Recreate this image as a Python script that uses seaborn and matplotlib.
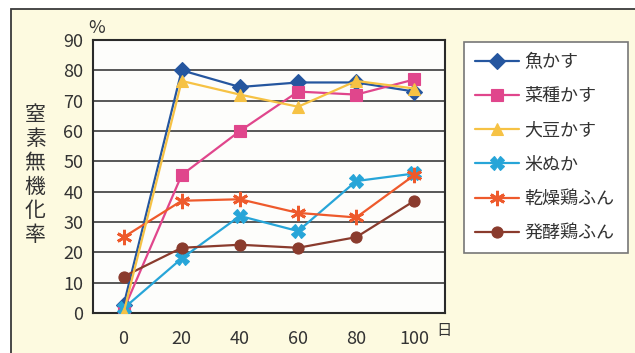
import matplotlib
matplotlib.use("Agg")
import matplotlib.pyplot as plt
import seaborn as sns
import pandas as pd
from matplotlib.patches import Rectangle

sns.set_style("white")
plt.rcParams["font.family"] = ["Noto Sans CJK JP", "DejaVu Sans"]

# Days since application
days = [0, 20, 40, 60, 80, 100]

# Nitrogen mineralization rate (%) for each organic fertilizer
fish_meal = [2.5, 80, 74.5, 76, 76, 73]
rapeseed_meal = [1, 45.5, 60, 73, 72, 77]
soybean_meal = [0, 76.5, 72, 68, 76.5, 74]
rice_bran = [1.5, 18, 32, 27, 43.5, 46]
dried_manure = [25, 37, 37.5, 33, 31.5, 45.5]
fermented_manure = [12, 21.5, 22.5, 21.5, 25, 37]

names = ["魚かす", "菜種かす", "大豆かす", "米ぬか", "乾燥鶏ふん", "発酵鶏ふん"]
series = [fish_meal, rapeseed_meal, soybean_meal, rice_bran, dried_manure, fermented_manure]

colors = ["#25569f", "#e0468c", "#f6c244", "#27a5d8", "#ee5a2c", "#8a3b2d"]
markers = ["D", "s", "^", "X", (6, 2, 0), "o"]
msizes = [8, 8, 9, 10, 11, 8]
zorders = [3, 3, 6, 4, 5, 5]

rows = []
for name, vals in zip(names, series):
    for d, v in zip(days, vals):
        rows.append({"day": d, "rate": v, "fert": name})
df = pd.DataFrame(rows)

fig = plt.figure(figsize=(6.35, 3.53), dpi=100)
fig.patch.set_facecolor("white")
fig.patches.append(Rectangle((11 / 635, -0.2), 1.2, (353 - 9) / 353 + 0.2,
                             transform=fig.transFigure, facecolor="#fdfae0",
                             edgecolor="#3a3a3a", lw=1.3, zorder=-10))

ax = fig.add_axes([93 / 635, 1 - 313 / 353, (445 - 93) / 635, (313 - 40) / 353])
ax.set_facecolor("#fdfdfb")

for name, c, m, ms, z in zip(names, colors, markers, msizes, zorders):
    sub = df[df["fert"] == name]
    filled = m not in [(6, 2, 0)]
    sns.lineplot(data=sub, x="day", y="rate", ax=ax, color=c, lw=1.6,
                 marker=m, markersize=ms, mec=c, mew=(0.8 if filled else 2.0),
                 label=name, zorder=z)

ax.set_xlim(-10.5, 110.5)
ax.set_ylim(0, 90)
ax.set_yticks(range(0, 100, 10))
ax.set_xticks(days)
ax.set_xticks([10, 30, 50, 70, 90], minor=True)
ax.tick_params(axis="x", which="major", length=0, pad=12, labelsize=13, colors="#333333")
ax.tick_params(axis="x", which="minor", direction="in", length=5, width=1.2, color="#333333")
ax.tick_params(axis="y", length=0, pad=7, labelsize=13, colors="#333333")
ax.set_xlabel("")
ax.set_ylabel("")
for y in range(10, 90, 10):
    ax.axhline(y, color="#4a4a4a", lw=1.3, zorder=1)
for s in ax.spines.values():
    s.set_color("#2a2a2a")
    s.set_linewidth(1.5)

ax.get_legend().remove()
handles, labels = ax.get_legend_handles_labels()
leg = fig.legend(handles, labels, loc="upper left",
                 bbox_to_anchor=(464 / 635, 1 - 42 / 353, (628 - 464) / 635, 0),
                 mode="expand", borderaxespad=0, fontsize=13, handlelength=2.45,
                 handletextpad=0.3, labelspacing=0.9, borderpad=0.6, frameon=True,
                 fancybox=False, edgecolor="#777777", facecolor="white", framealpha=1)
leg.get_frame().set_linewidth(1.2)
for t in leg.get_texts():
    t.set_color("#333333")

fig.text(35 / 635, 1 - 175 / 353, "\n".join("窒素無機化率"), fontsize=15,
         ha="center", va="center", linespacing=1.12, color="#333333")
fig.text(97 / 635, 1 - 28 / 353, "%", fontsize=13, ha="center", va="center", color="#333333")
fig.text(444 / 635, 1 - 330 / 353, "日", fontsize=11, ha="center", va="center", color="#333333")

fig.savefig("out.png", dpi=100, facecolor=fig.get_facecolor())
